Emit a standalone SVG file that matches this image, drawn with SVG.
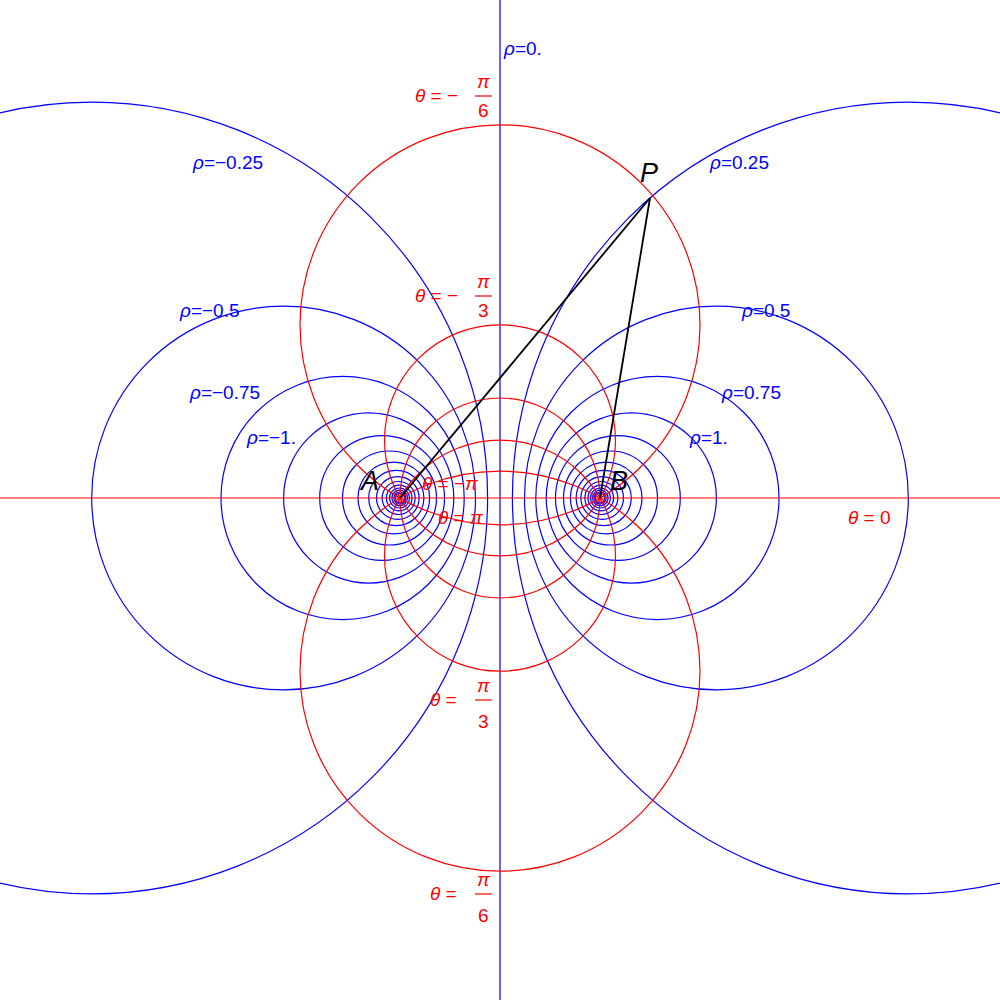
<svg xmlns="http://www.w3.org/2000/svg" width="1000" height="1000" viewBox="0 0 1000 1000">
<style>
.b{fill:none;stroke:#0000ff;stroke-width:1.2}
.r{fill:none;stroke:#ff0000;stroke-width:1.2}
.bt{fill:#0000ff;font-family:"Liberation Sans",sans-serif;font-size:19px}
.rt{fill:#ff0000;font-family:"Liberation Sans",sans-serif;font-size:19px}
.i{font-style:italic}
.k{font-family:"Liberation Sans",sans-serif;font-size:27px;font-style:italic;fill:#000}
</style>
<rect width="1000" height="1000" fill="#fff"/>
<g id="rho-curves">
<line class="b" x1="500" y1="0" x2="500" y2="1000"/>
<circle class="b" cx="908.3" cy="498" r="395.9"/><circle class="b" cx="91.7" cy="498" r="395.9"/>
<circle class="b" cx="716.4" cy="498" r="191.9"/><circle class="b" cx="283.6" cy="498" r="191.9"/>
<circle class="b" cx="657.4" cy="498" r="121.6"/><circle class="b" cx="342.6" cy="498" r="121.6"/>
<circle class="b" cx="631.3" cy="498" r="85.1"/><circle class="b" cx="368.7" cy="498" r="85.1"/>
<circle class="b" cx="617.9" cy="498" r="62.4"/><circle class="b" cx="382.1" cy="498" r="62.4"/>
<circle class="b" cx="610.5" cy="498" r="47"/><circle class="b" cx="389.5" cy="498" r="47"/>
<circle class="b" cx="606.2" cy="498" r="35.8"/><circle class="b" cx="393.8" cy="498" r="35.8"/>
<circle class="b" cx="603.7" cy="498" r="27.6"/><circle class="b" cx="396.3" cy="498" r="27.6"/>
<circle class="b" cx="602.2" cy="498" r="21.3"/><circle class="b" cx="397.8" cy="498" r="21.3"/>
<circle class="b" cx="601.35" cy="498" r="16.5"/><circle class="b" cx="398.65" cy="498" r="16.5"/>
<circle class="b" cx="600.82" cy="498" r="12.8"/><circle class="b" cx="399.18" cy="498" r="12.8"/>
<circle class="b" cx="600.5" cy="498" r="10"/><circle class="b" cx="399.5" cy="498" r="10"/>
<circle class="b" cx="600.3" cy="498" r="7.8"/><circle class="b" cx="399.7" cy="498" r="7.8"/>
<circle class="b" cx="600.18" cy="498" r="6"/><circle class="b" cx="399.82" cy="498" r="6"/>
<circle class="b" cx="600.11" cy="498" r="4.7"/><circle class="b" cx="399.89" cy="498" r="4.7"/>
</g>
<g id="theta-curves">
<line class="r" x1="0" y1="498" x2="1000" y2="498"/>
<circle class="r" cx="500" cy="324.8" r="200"/><circle class="r" cx="500" cy="671.2" r="200"/>
<circle class="r" cx="500" cy="440.3" r="115.5"/><circle class="r" cx="500" cy="555.7" r="115.5"/>
<circle class="r" cx="500" cy="498" r="100"/>
</g>
<g id="triangle" stroke="#000" stroke-width="1.8" fill="none">
<line x1="400" y1="498" x2="650" y2="198"/>
<line x1="600" y1="498" x2="650" y2="198"/>
</g>
<g id="points">
<text class="k" x="361" y="490">A</text>
<text class="k" x="610" y="490">B</text>
<text class="k" x="640" y="182">P</text>
</g>
<g id="rho-labels">
<text class="bt" x="504" y="55"><tspan class="i">ρ</tspan>=0.</text>
<text class="bt" x="710" y="169"><tspan class="i">ρ</tspan>=0.25</text>
<text class="bt" x="742" y="317"><tspan class="i">ρ</tspan>=0.5</text>
<text class="bt" x="722" y="399"><tspan class="i">ρ</tspan>=0.75</text>
<text class="bt" x="690" y="444"><tspan class="i">ρ</tspan>=1.</text>
<text class="bt" x="193" y="169"><tspan class="i">ρ</tspan>=−0.25</text>
<text class="bt" x="180" y="317"><tspan class="i">ρ</tspan>=−0.5</text>
<text class="bt" x="190" y="399"><tspan class="i">ρ</tspan>=−0.75</text>
<text class="bt" x="247" y="444"><tspan class="i">ρ</tspan>=−1.</text>
</g>
<g id="theta-labels">
<text class="rt" x="415" y="102"><tspan class="i">θ</tspan> = −</text>
<text class="rt i" x="477" y="88">π</text><line x1="475" y1="96" x2="492" y2="96" stroke="#f00" stroke-width="1.2"/><text class="rt" x="478" y="117">6</text>
<text class="rt" x="415" y="302"><tspan class="i">θ</tspan> = −</text>
<text class="rt i" x="477" y="288">π</text><line x1="475" y1="296" x2="492" y2="296" stroke="#f00" stroke-width="1.2"/><text class="rt" x="478" y="317">3</text>
<text class="rt" x="430" y="706"><tspan class="i">θ</tspan> =</text>
<text class="rt i" x="477" y="692">π</text><line x1="475" y1="700" x2="492" y2="700" stroke="#f00" stroke-width="1.2"/><text class="rt" x="478" y="728">3</text>
<text class="rt" x="430" y="900"><tspan class="i">θ</tspan> =</text>
<text class="rt i" x="477" y="886">π</text><line x1="475" y1="894" x2="492" y2="894" stroke="#f00" stroke-width="1.2"/><text class="rt" x="478" y="922">6</text>
<text class="rt" x="422" y="490"><tspan class="i">θ</tspan> = −<tspan class="i">π</tspan></text>
<text class="rt" x="438" y="524"><tspan class="i">θ</tspan> = <tspan class="i">π</tspan></text>
<text class="rt" x="848" y="524"><tspan class="i">θ</tspan> = 0</text>
</g>
</svg>
